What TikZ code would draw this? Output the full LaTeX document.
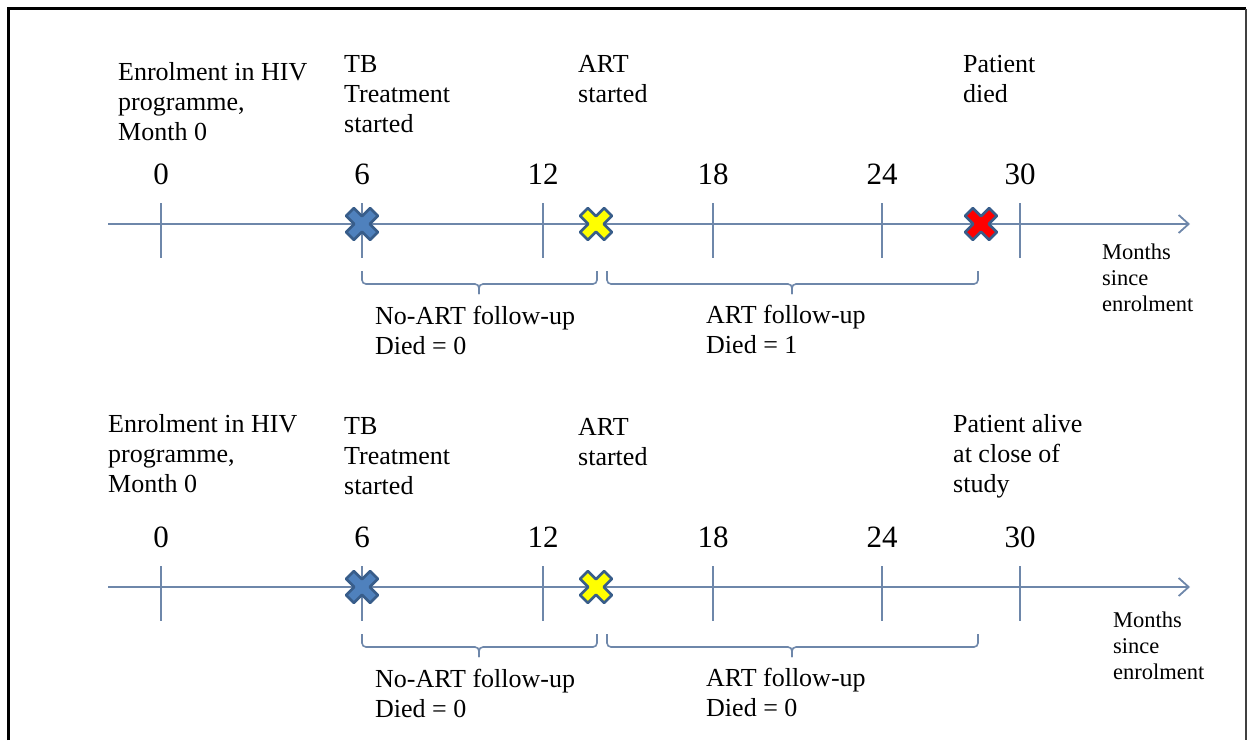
\documentclass[tikz,border=0pt]{standalone}
\usepackage{fontspec}
\setmainfont{Liberation Serif}
\usetikzlibrary{arrows.meta}
\definecolor{axisc}{RGB}{110,135,170}
\definecolor{xline}{RGB}{56,93,138}
\definecolor{xblue}{RGB}{79,129,189}
\definecolor{xyellow}{RGB}{255,255,0}
\definecolor{xred}{RGB}{255,0,0}
\tikzset{
 axisline/.style={draw=axisc, line width=1.8pt, -{Straight Barb[length=10pt,width=18pt]}},
 tickline/.style={draw=axisc, line width=1.5pt},
 braceline/.style={draw=axisc, line width=1.6pt, rounded corners=4pt},
 lbl/.style={anchor=north west, align=left, inner sep=0pt, font=\fontsize{26}{30}\selectfont},
 num/.style={anchor=base, inner sep=0pt, font=\fontsize{31}{36}\selectfont},
 unitlbl/.style={anchor=north west, align=left, inner sep=0pt, font=\fontsize{22.5}{26}\selectfont},
 pics/xmark/.style={code={
   \filldraw[fill=#1, draw=xline, line width=2.6pt, line join=round, rotate=45]
     (5.5,17) -- (5.5,5.5) -- (17,5.5) -- (17,-5.5) -- (5.5,-5.5) -- (5.5,-17) -- (-5.5,-17) -- (-5.5,-5.5)
     -- (-17,-5.5) -- (-17,5.5) -- (-5.5,5.5) -- (-5.5,17) -- cycle;
 }},
}
\begin{document}
\begin{tikzpicture}[x=1pt,y=-1pt]
\useasboundingbox (0,0) rectangle (1248,740);
% frame
\draw[line width=3pt, black] (8,740) -- (8,8.5) -- (1246,8.5);
\draw[line width=1.5pt, black!75] (1246,8.5) -- (1246,740);

% ---------- top timeline ----------
\coordinate (As) at (108,224);
\coordinate (Ae) at (1190,224);
\draw[axisline] (As) -- (Ae);
\foreach \m/\x in {0/161,6/362,12/543,18/713,24/882,30/1020} {
  \draw[tickline] (\x,203) -- (\x,258);
  \node[num] (An\m) at (\x,184) {\m};
}
\node[lbl] (Aenrol) at (118,62) {Enrolment in HIV\\programme,\\Month 0};
\node[lbl] (Atb) at (344,55) {TB\\Treatment\\started};
\node[lbl] (Aart) at (578,55) {ART\\started};
\node[lbl] (Adied) at (963,55) {Patient\\died};
\node[unitlbl] (Aunit) at (1102,244) {Months\\since\\enrolment};
\pic at (362,224) {xmark=xblue};
\pic at (596,224) {xmark=xyellow};
\pic at (981,224) {xmark=xred};
\draw[braceline] (362,271) |- (479,284) -- (479,294);
\draw[braceline] (597,271) |- (479,284) -- (479,294);
\draw[braceline] (607,271) |- (792,284) -- (792,294);
\draw[braceline] (978,271) |- (792,284) -- (792,294);
\node[lbl] (Anoart) at (375,306) {No-ART follow-up\\Died = 0};
\node[lbl] (Aartf) at (706,305) {ART follow-up\\Died = 1};

% ---------- bottom timeline ----------
\coordinate (Bs) at (108,587);
\coordinate (Be) at (1190,587);
\draw[axisline] (Bs) -- (Be);
\foreach \m/\x in {0/161,6/362,12/543,18/713,24/882,30/1020} {
  \draw[tickline] (\x,566) -- (\x,621);
  \node[num] (Bn\m) at (\x,547) {\m};
}
\node[lbl] (Benrol) at (108,414) {Enrolment in HIV\\programme,\\Month 0};
\node[lbl] (Btb) at (344,417) {TB\\Treatment\\started};
\node[lbl] (Bart) at (578,418) {ART\\started};
\node[lbl] (Balive) at (953,414) {Patient alive\\at close of\\study};
\node[unitlbl] (Bunit) at (1113,612) {Months\\since\\enrolment};
\pic at (362,587) {xmark=xblue};
\pic at (596,587) {xmark=xyellow};
\draw[braceline] (362,634) |- (479,647) -- (479,657);
\draw[braceline] (597,634) |- (479,647) -- (479,657);
\draw[braceline] (607,634) |- (792,647) -- (792,657);
\draw[braceline] (978,634) |- (792,647) -- (792,657);
\node[lbl] (Bnoart) at (375,669) {No-ART follow-up\\Died = 0};
\node[lbl] (Bartf) at (706,668) {ART follow-up\\Died = 0};
\end{tikzpicture}
\end{document}
